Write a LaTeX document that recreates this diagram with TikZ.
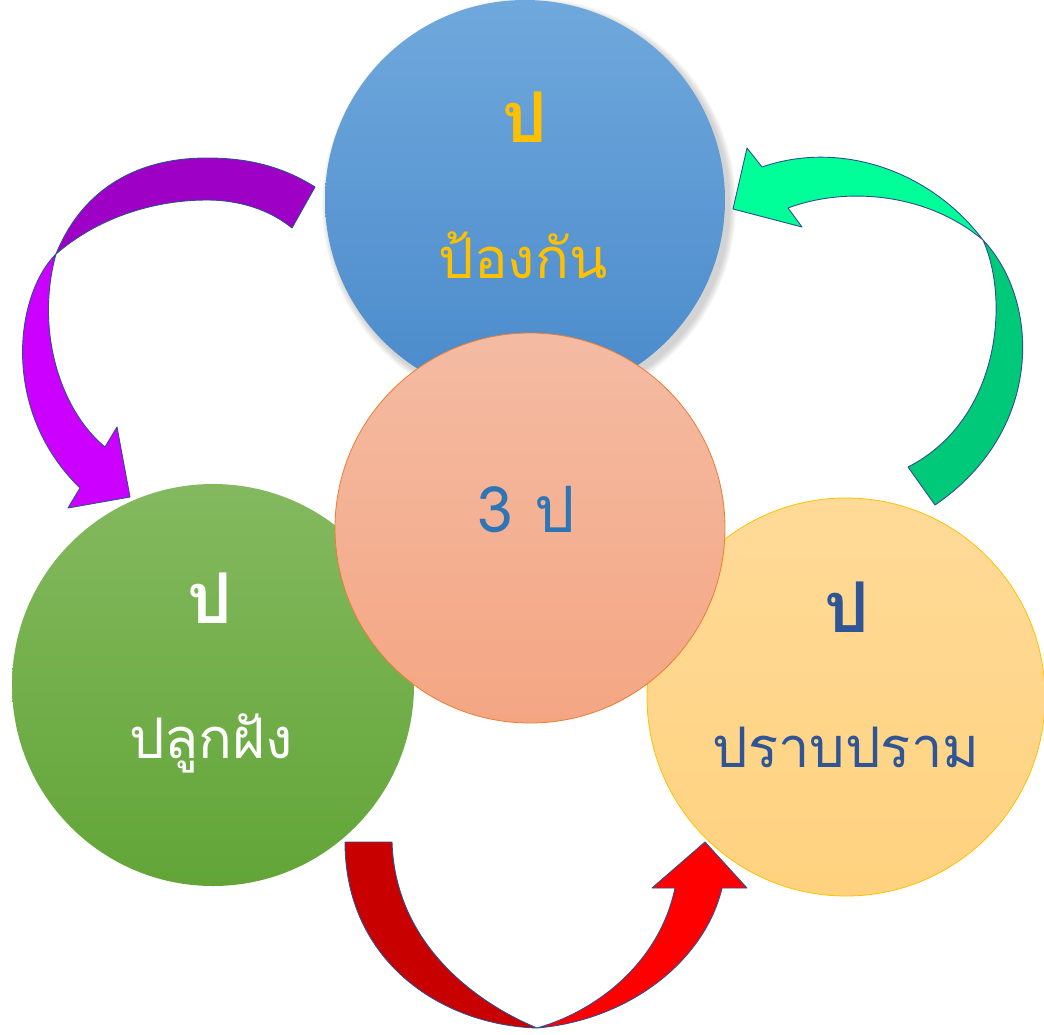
\documentclass[tikz,border=0pt]{standalone}
\usepackage{fontspec}
\newfontfamily\thaifont[Script=Thai]{Loma}
\definecolor{bluetop}{HTML}{6FA8DC}
\definecolor{bluebot}{HTML}{4A8ACB}
\definecolor{greentop}{HTML}{84B95F}
\definecolor{greenbot}{HTML}{62A537}
\definecolor{yeltop}{HTML}{FFDA98}
\definecolor{yelbot}{HTML}{FFD27F}
\definecolor{yelline}{HTML}{FFC000}
\definecolor{saltop}{HTML}{F4BBA3}
\definecolor{salbot}{HTML}{F4A683}
\definecolor{salline}{HTML}{ED7D31}
\definecolor{txtyellow}{HTML}{FFC000}
\definecolor{txtnavy}{HTML}{2F5597}
\definecolor{txtblue}{HTML}{2E75B6}
\definecolor{arrline}{HTML}{2F4F8F}
\definecolor{purdark}{HTML}{9E00C6}
\definecolor{purlight}{HTML}{CC00FF}
\definecolor{grnlight}{HTML}{00FF99}
\definecolor{grndark}{HTML}{00C97A}
\definecolor{reddark}{HTML}{C80000}
\definecolor{redlight}{HTML}{FF0000}
\begin{document}
\begin{tikzpicture}[x=1pt,y=-1pt,
  bubble/.style={circle, minimum size=#1, inner sep=0pt},
  arrowpart/.style={draw=arrline, line width=0.9pt, line join=round},
  bigp/.style={anchor=base, font=\thaifont\bfseries\fontsize{70}{84}\selectfont},
  word/.style={anchor=base, font=\thaifont\fontsize{56}{66}\selectfont}]
\useasboundingbox (0,0) rectangle (1044,1034);
% shadow of top circle
\foreach \i in {1,...,8}{
  \fill[black, opacity=0.025] (529,205) circle ({200+\i*0.9});
}
\node[bubble=400pt, top color=bluetop, bottom color=bluebot] (top) at (525,200) {};
\node[bubble=402pt, top color=greentop, bottom color=greenbot] (left) at (213,685) {};
\node[bubble=398pt, draw=yelline, line width=0.8pt, top color=yeltop, bottom color=yelbot] (right) at (846,697) {};
\node[bubble=390pt, draw=salline, line width=0.8pt, top color=saltop, bottom color=salbot] (mid) at (530,528) {};

% purple arrow (top-left)
\path[arrowpart, fill=purdark] (315,187) .. controls (280,165) and (245,158) .. (207,158)
  .. controls (130,158) and (80,195) .. (56,254)
  .. controls (95,220) and (150,200) .. (207,200)
  .. controls (240,200) and (270,210) .. (292,228) -- cycle;
\path[arrowpart, fill=purlight] (56,254) .. controls (15,295) and (0,410) .. (80,488)
  -- (68,508) -- (130,497) -- (117,427) -- (105,447)
  .. controls (60,410) and (35,330) .. (56,254) -- cycle;

% green arrow (right)
\path[arrowpart, fill=grndark] (983,240) .. controls (1040,300) and (1045,430) .. (935,505)
  -- (908,467) .. controls (1000,420) and (1010,300) .. (983,240) -- cycle;
\path[arrowpart, fill=grnlight] (983,240) .. controls (930,170) and (840,140) .. (762,167)
  -- (747,148) -- (733,209) -- (802,227) -- (788,208)
  .. controls (850,185) and (930,195) .. (983,240) -- cycle;

% red arrow (bottom)
\path[arrowpart, fill=reddark] (345,842) -- (392,842) .. controls (395,940) and (470,1000) .. (537,1028)
  .. controls (440,1025) and (345,960) .. (345,842) -- cycle;
\path[arrowpart, fill=redlight] (537,1028) .. controls (630,1020) and (705,960) .. (722,888)
  -- (747,888) -- (705,842) -- (652,888) -- (675,888)
  .. controls (660,960) and (600,1010) .. (537,1028) -- cycle;

% texts
\node[bigp, text=txtyellow] (tp) at (525,142) {ป};
\node[word, text=txtyellow] (tw) at (523,278) {ป้องกัน};
\node[bigp, text=white] (lp) at (210,623) {ป};
\node[word, text=white] (lw) at (211,758) {ปลูกฝัง};
\node[bigp, text=txtnavy] (rp) at (847,632) {ป};
\node[word, text=txtnavy] (rw) at (846,767) {ปราบปราม};
\node[bigp, text=txtblue, font=\thaifont\fontsize{64}{76}\selectfont] (mp) at (526,532) {3 ป};
\end{tikzpicture}
\end{document}
